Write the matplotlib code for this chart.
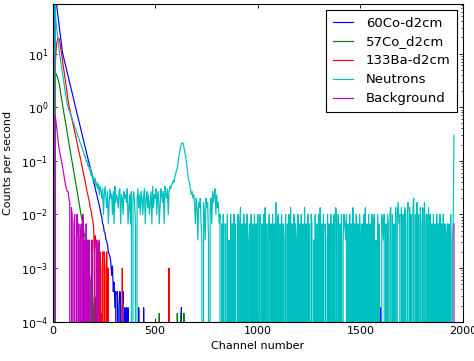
import numpy as np
import matplotlib
matplotlib.use("Agg")
import matplotlib.pyplot as plt

STEP = 4          # one stored sample every 4 MCA channels
N_SAMPLES = 490   # last stored channel is 1956

# 60Co source at 2 cm
co60_live = 5500.0
co60_head = [0, 0, 0, 158, 112, 80, 60, 45, 34, 25, 19, 14.5, 10.7, 9.1, 7.9,
             6.8, 5.9, 5.1, 4.4, 3.8, 3.3, 2.8, 2.45, 2.1, 1.82, 1.58, 1.35,
             1.17, 1.0, 0.87, 0.74, 0.65, 0.56, 0.48, 0.42, 0.36, 0.31, 0.27,
             0.23, 0.20, 0.174, 0.151, 0.129, 0.112, 0.098, 0.085, 0.074,
             0.064, 0.056, 0.048, 0.042, 0.036, 0.031, 0.027, 0.023, 0.020,
             0.017, 0.0145, 0.0125]
co60_tail = """55 49 37 34 26 25 19 17 15 11 10 9 7 4 6 2 3 1 2 0
2 1 0 2 1 0 1 2 0 1 0 1 0 1 0"""
co60_spikes = {420: 1, 444: 1, 628: 1, 1600: 1}

# 57Co source at 2 cm
co57_live = 7000.0
co57_head = [0, 0, 0, 4.5, 4.3, 4.0, 3.6, 3.2, 2.8, 2.3, 1.8, 1.45, 1.15, 0.93,
             0.76, 0.62, 0.50, 0.41, 0.33, 0.26, 0.21, 0.174, 0.141, 0.115,
             0.093, 0.076, 0.062, 0.050, 0.041, 0.033, 0.027, 0.0215, 0.0175,
             0.0142, 0.0115, 0.0094, 0.0076]
co57_tail = "43 35 28 23 19 23 22 12 6 4 0 3 2 1 0 2 1 0 1 0 1 0 0 1"
co57_spikes = {520: 1, 608: 1, 624: 1, 640: 1}

# 133Ba source at 2 cm
ba133_live = 1000.0
ba133_head = [0, 0, 0, 4, 10, 15, 18, 19.5, 19, 16.2, 12.6, 9.8, 7.6, 6.0, 4.7,
              3.6, 2.8, 2.2, 1.74, 1.35, 1.07, 0.91, 0.78, 0.66, 0.56, 0.48,
              0.41, 0.35, 0.30, 0.25, 0.21, 0.18, 0.155, 0.13, 0.11, 0.093,
              0.078, 0.066, 0.055, 0.047, 0.039, 0.032, 0.027, 0.023, 0.0195]
ba133_tail = "17 13 12 9 8 6 2 4 3 0 2 3 0 2 1 0 2 0 2 1 0 2 0 1 0"
ba133_spikes = {340: 1, 568: 1}

# neutron run
neut_live = 300.0
neut_head = [0, 0, 0, 90, 42, 32, 22, 16.5, 12.2, 8.9, 7.1, 5.6, 4.4, 3.5,
             2.75, 2.2, 1.74, 1.35, 1.12, 0.98]
neut_tail = """
262 245 220 198 181 158 149 128 121 103 99 83 80 68 66 56 54 46 44 36
36 29 30 24 25 20 22 16 18 13 15 12 14 10 12 9 11 7 10
8 6 9 3 7 10 6 4 8 2   5 9 6 7 3 8 2 10 5 7   6 4 8 9 2 7 6 3 8 6
7 5 9 2 4 7 2 8 0 6    8 5 2 0 6 9 4 7 3 8    6 3 7 9 2 6 8 4 7 3
5 8 2 10 4 7 6 9 3 7   8 2 4 9 7 5 8 2 10 7   6 9 3 8 10 9
11 11 13 12 15 17 20 22 28 36 45 54 62 66 64 55 44 38 30 22
16 13 11 9 7 8 6 7
5 2 6 4 1 5 4 6 2 1 0 5 3 1 6 4 5 1 0 4 6 2 8 5 7 9 3 7 4 5 2
3 0 2 0 3 0 2 2 0 3 0 1 0 3 0
2 0 3 0 2 0 0 3 0 2 4 0 2 0 3
0 2 0 3 0 1 2 0 3 0 2 0 3 0 2
0 3 0 2 3 0 2 0 3 0 4 0 2 0 1
3 0 2 0 3 0 2 0 5 0 2 3 0 2 0
3 0 2 0 1 3 0 2 0 3 0 4 0 2 0
3 0 2 1 0 3 0 2 0 3 0 2 0 4 0
2 0 3 0 2 0 3 2 0 1 0 3 0 2 0
3 0 4 0 2 0 3 0 2 1 0 3 0 2 0
3 0 2 0 3 0 4 2 0 3 0 2 0 3 0
1 3 2 1 3 0 2 0 3 0 2 0 4 0 2
0 3 0 2 0 3 1 0 2 0 3 0 4 0 2
0 3 0 2 0 3 0 2 3 0 1 0 3 0 2
0 0 3 2 1 3 0 2 0 3 2 0 3 4 0
3 0 2 0 4 0 3 5 2 3 0 4 0 3 0
4 2 0 3 5 0 4 0 3 0 4 6 0 3 0
5 0 3 0 4 2 0 4 0 5 2 0 3 0 4
0 3 0 2 0 3 0 2 0 3 0 2 0 3 0
2 0 3 0 2 0 1 2 0 2 0 3 0 1 2
90"""
neut_spikes = {}

# background run
bkg_live = 300.0
bkg_head = [0, 0, 0, 0.70, 0.58, 0.42, 0.30, 0.22, 0.165, 0.14, 0.115, 0.097,
            0.08, 0.065, 0.052, 0.042, 0.034]
bkg_tail = """9 8 8 6 5 0 4 3 0 2 3 0 1 3 0 2 0 1 2 0 3 0 1 0 2 0 1 0 1 0
0 1 0 0 1 0 0 1 0 0 1 0 0"""
bkg_spikes = {1956: 2}


def spectrum(head, tail, live, spikes):
    cps = np.zeros(N_SAMPLES)
    cps[:len(head)] = head
    counts = np.array(tail.split(), dtype=float)
    cps[len(head):len(head) + len(counts)] = counts / live
    for ch, n in spikes.items():
        cps[ch // STEP] = n / live
    return cps


channels = np.arange(N_SAMPLES) * STEP

series = [
    (spectrum(co60_head, co60_tail, co60_live, co60_spikes), "b", "60Co-d2cm"),
    (spectrum(co57_head, co57_tail, co57_live, co57_spikes), "g", "57Co_d2cm"),
    (spectrum(ba133_head, ba133_tail, ba133_live, ba133_spikes), "r", "133Ba-d2cm"),
    (spectrum(neut_head, neut_tail, neut_live, neut_spikes), "c", "Neutrons"),
    (spectrum(bkg_head, bkg_tail, bkg_live, bkg_spikes), "m", "Background"),
]
colors = {"b": (0, 0, 1), "g": (0, 0.5, 0), "r": (1, 0, 0),
          "c": (0, 0.75, 0.75), "m": (0.75, 0, 0.75)}

fig = plt.figure(figsize=(4.74, 3.61), dpi=100)
ax = fig.add_axes([0.1108, 0.109, 0.8660, 0.880])

for cps, c, label in series:
    ax.plot(channels, cps, color=colors[c], lw=0.85, label=label)

ax.set_yscale("log", nonpositive="clip")
ax.set_xlim(0, 2000)
ax.set_ylim(1e-4, 84)
ax.set_xticks([0, 500, 1000, 1500, 2000])

ax.tick_params(which="both", direction="in", top=True, right=True,
               labelsize=8, pad=3)
ax.tick_params(which="major", length=3, width=0.6)
ax.tick_params(which="minor", length=1.5, width=0.5)
ax.xaxis.set_minor_locator(matplotlib.ticker.NullLocator())
for sp in ax.spines.values():
    sp.set_linewidth(0.8)

ax.set_xlabel("Channel number", fontsize=8)
ax.set_ylabel("Counts per second", fontsize=8, labelpad=6)

leg = ax.legend(loc="upper right", fontsize=9.5, fancybox=False,
                edgecolor="black", framealpha=1, borderaxespad=0.45,
                handlelength=1.5, handletextpad=1.0, labelspacing=0.45,
                borderpad=0.5)
leg.get_frame().set_linewidth(0.8)

fig.savefig("out.png", dpi=100)
